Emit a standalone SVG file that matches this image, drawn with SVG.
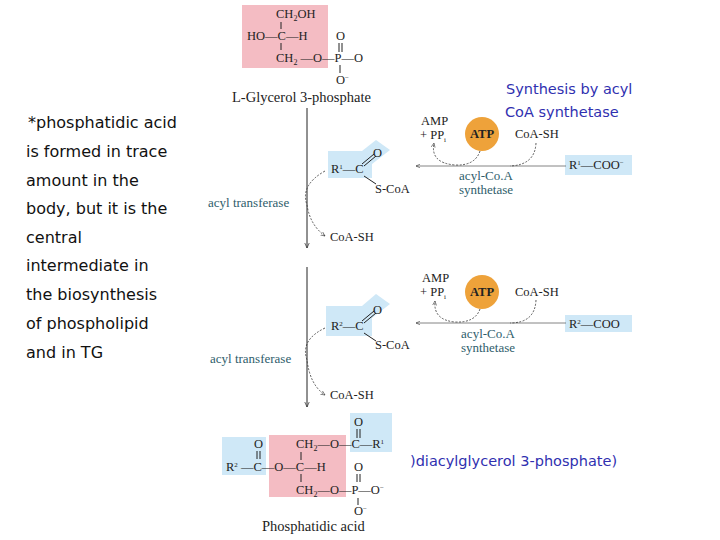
<svg xmlns="http://www.w3.org/2000/svg" width="720" height="540" viewBox="0 0 720 540">
<defs>
<style>
.c{font-family:"Liberation Serif",serif;font-size:12.5px;fill:#222}
.lb{font-family:"Liberation Serif",serif;font-size:14.5px;fill:#222}
.enz{font-family:"Liberation Serif",serif;font-size:13px;fill:#2e5d6b}
.blue{font-family:"DejaVu Sans",sans-serif;font-size:14.5px;fill:#3030b0}
.note{font-family:"DejaVu Sans",sans-serif;font-size:16px;fill:#111}
.ln{stroke:#222;stroke-width:1;fill:none}
.dash{stroke:#333;stroke-width:0.8;fill:none;stroke-dasharray:2 1.5}
.pink{fill:#f4bcc3}.lblue{fill:#cfe8f7}
.atp{fill:#eea23a}
</style>
<marker id="ah" viewBox="0 0 10 10" refX="9" refY="5" markerWidth="6" markerHeight="6" orient="auto"><path d="M0,1 L9,5 L0,9" fill="none" stroke="#333" stroke-width="1.2"/></marker>
</defs>
<rect width="720" height="540" fill="#fff"/>
<g id="note">
<text class="note" x="28" y="128">*phosphatidic acid</text>
<text class="note" x="26" y="157">is formed in trace</text>
<text class="note" x="26" y="186">amount in the</text>
<text class="note" x="26" y="214">body, but it is the</text>
<text class="note" x="26" y="243">central</text>
<text class="note" x="26" y="271">intermediate in</text>
<text class="note" x="26" y="300">the biosynthesis</text>
<text class="note" x="26" y="329">of phospholipid</text>
<text class="note" x="26" y="358">and in TG</text>
</g>
<g id="glycerol3p">
<rect class="pink" x="242" y="5" width="86" height="63"/>
<text class="c" x="276" y="18">CH<tspan font-size="8" dy="3">2</tspan><tspan dy="-3">OH</tspan></text>
<text class="c" x="247" y="40">HO—C—H</text>
<line class="ln" x1="281" y1="22" x2="281" y2="29"/><line class="ln" x1="281" y1="43" x2="281" y2="50"/>
<text class="c" x="276" y="62">CH<tspan font-size="8" dy="3">2</tspan><tspan dy="-3"> —O—P—O</tspan></text>
<text class="c" x="336" y="40">O</text>
<line class="ln" x1="339" y1="43" x2="339" y2="52"/><line class="ln" x1="342" y1="43" x2="342" y2="52"/>
<line class="ln" x1="340" y1="65" x2="340" y2="73"/>
<text class="c" x="336" y="84">O<tspan font-size="7" dy="-4">−</tspan></text>
<text class="lb" x="232" y="102">L-Glycerol 3-phosphate</text>
</g>
<g id="synthNote">
<text class="blue" x="506" y="94">Synthesis by acyl</text>
<text class="blue" x="505" y="117">CoA synthetase</text>
</g>
<g id="acylcoa1">
<polygon class="lblue" points="328,151 362,151 376,140 390,150 372,164 372,178 328,178"/>
<text class="c" x="331" y="173">R<tspan font-size="7" dy="-4">1</tspan><tspan dy="4">—C</tspan></text>
<text class="c" x="373" y="157">O</text>
<line class="ln" x1="362" y1="164" x2="374" y2="154"/><line class="ln" x1="364" y1="166" x2="376" y2="156"/>
<line class="ln" x1="364" y1="176" x2="376" y2="184"/>
<text class="c" x="375" y="193">S-CoA</text>
</g>
<g id="fa1">
<rect class="lblue" x="565" y="155" width="67" height="20"/>
<text class="c" x="569" y="169">R<tspan font-size="7" dy="-4">1</tspan><tspan dy="4">—COO</tspan><tspan font-size="7" dy="-4">−</tspan></text>
<text class="c" x="421" y="125">AMP</text>
<text class="c" x="420" y="139">+ PP<tspan font-size="7" dy="3">i</tspan></text>
<circle class="atp" cx="482" cy="134" r="17"/>
<text class="c" x="482" y="138" text-anchor="middle" font-weight="bold" fill="#6a3a10">ATP</text>
<text class="c" x="515" y="138">CoA-SH</text>
<text class="enz" x="486" y="180" text-anchor="middle">acyl-Co.A</text>
<text class="enz" x="486" y="194" text-anchor="middle">synthetase</text>
<text class="enz" x="208" y="207">acyl transferase</text>
<text class="c" x="330" y="241">CoA-SH</text>
</g>
<g id="acylcoa2">
<polygon class="lblue" points="326,306 362,306 376,294 390,304 372,318 372,336 326,336"/>
<text class="c" x="331" y="330">R<tspan font-size="7" dy="-4">2</tspan><tspan dy="4">—C</tspan></text>
<text class="c" x="373" y="314">O</text>
<line class="ln" x1="362" y1="321" x2="374" y2="311"/><line class="ln" x1="364" y1="323" x2="376" y2="313"/>
<line class="ln" x1="364" y1="333" x2="376" y2="341"/>
<text class="c" x="375" y="349">S-CoA</text>
</g>
<g id="fa2">
<rect class="lblue" x="565" y="315" width="67" height="17"/>
<text class="c" x="569" y="328">R<tspan font-size="7" dy="-4">2</tspan><tspan dy="4">—COO</tspan></text>
<text class="c" x="422" y="282">AMP</text>
<text class="c" x="420" y="296">+ PP<tspan font-size="7" dy="3">i</tspan></text>
<circle class="atp" cx="482" cy="292" r="17"/>
<text class="c" x="482" y="296" text-anchor="middle" font-weight="bold" fill="#6a3a10">ATP</text>
<text class="c" x="515" y="296">CoA-SH</text>
<text class="enz" x="488" y="338" text-anchor="middle">acyl-Co.A</text>
<text class="enz" x="488" y="352" text-anchor="middle">synthetase</text>
<text class="enz" x="210" y="363">acyl transferase</text>
<text class="c" x="330" y="399">CoA-SH</text>
</g>
<g id="connectors">
<line class="ln" x1="307" y1="108" x2="307" y2="248" marker-end="url(#ah)"/>
<line class="ln" x1="307" y1="267" x2="307" y2="407" marker-end="url(#ah)"/>
<line x1="566" y1="166" x2="416" y2="166" stroke="#666" stroke-width="0.8" marker-end="url(#ah)"/>
<line x1="566" y1="323" x2="416" y2="323" stroke="#666" stroke-width="0.8" marker-end="url(#ah)"/>
<path class="dash" d="M325,171 Q300,185 307,205 Q310,225 325,236" marker-end="url(#ah)"/>
<path class="dash" d="M325,328 Q300,340 307,360 Q310,385 325,395" marker-end="url(#ah)"/>
<path class="dash" d="M480,151 Q475,166 455,165 Q430,163 434,143" marker-end="url(#ah)"/>
<path class="dash" d="M536,143 Q535,165 510,166"/>
<path class="dash" d="M480,309 Q475,323 455,322 Q433,320 435,301" marker-end="url(#ah)"/>
<path class="dash" d="M536,300 Q535,323 510,323"/>
</g>
<g id="phosphatidic">
<rect class="pink" x="269" y="435" width="77" height="62"/>
<rect class="lblue" x="222" y="437" width="44" height="38"/>
<rect class="lblue" x="350" y="413" width="42" height="39"/>
<text class="c" x="254" y="448">O</text>
<line class="ln" x1="257" y1="451" x2="257" y2="459"/><line class="ln" x1="260" y1="451" x2="260" y2="459"/>
<text class="c" x="226" y="471">R<tspan font-size="7" dy="-4">2</tspan><tspan dy="4"> —C—O—C—H</tspan></text>
<text class="c" x="296" y="448">CH<tspan font-size="8" dy="3">2</tspan><tspan dy="-3">—O—C—R</tspan><tspan font-size="7" dy="-4">1</tspan></text>
<text class="c" x="354" y="426">O</text>
<line class="ln" x1="357" y1="429" x2="357" y2="438"/><line class="ln" x1="360" y1="429" x2="360" y2="438"/>
<line class="ln" x1="301" y1="452" x2="301" y2="460"/><line class="ln" x1="301" y1="474" x2="301" y2="482"/>
<text class="c" x="354" y="471">O</text>
<line class="ln" x1="357" y1="474" x2="357" y2="482"/><line class="ln" x1="360" y1="474" x2="360" y2="482"/>
<text class="c" x="296" y="494">CH<tspan font-size="8" dy="3">2</tspan><tspan dy="-3">—O—P—O</tspan><tspan font-size="7" dy="-4">−</tspan></text>
<line class="ln" x1="358" y1="498" x2="358" y2="505"/>
<text class="c" x="354" y="515">O<tspan font-size="7" dy="-4">−</tspan></text>
<text class="lb" x="262" y="531">Phosphatidic acid</text>
<text class="blue" x="410" y="466">)diacylglycerol 3-phosphate)</text>
</g>
</svg>
